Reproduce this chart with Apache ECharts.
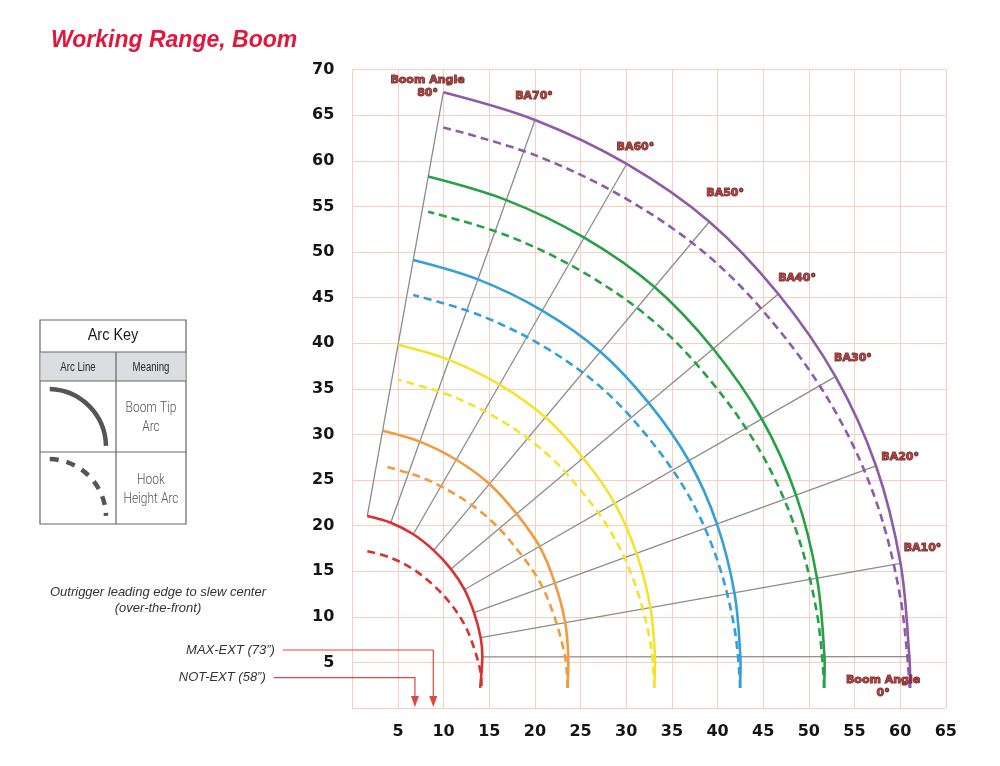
<!DOCTYPE html>
<html>
<head>
<meta charset="utf-8">
<title>Working Range, Boom</title>
<script src="https://cdn.jsdelivr.net/npm/echarts@6/dist/echarts.min.js"></script>
<style>
html, body { margin: 0; padding: 0; background: #fff; }
#chart { width: 1000px; height: 766px; }
</style>
</head>
<body>
<div id="chart"></div>
<script>
// axes (ft)
var xMax = 65;
var yMax = 70;
var tickStep = 5;

// boom angle lines: inner end sits on the base arc, outer end on the full-length arc
var boomAngles = [0, 10, 20, 30, 40, 50, 60, 70, 80];
var lineInner = [[14.24, 5.6], [14.06, 7.71], [13.33, 10.45], [12.29, 12.99], [10.81, 15.23],
                 [8.92, 17.28], [6.68, 19.05], [4.21, 20.32], [1.64, 21.05]];
var lineOuter = [[61.01, 5.63], [60.04, 15.87], [57.36, 26.54], [52.92, 36.33], [46.66, 45.39],
                 [39.1, 53.32], [30.05, 59.65], [20.01, 64.47], [9.97, 67.51]];
var angleLabels = ['Boom Angle\n0°', 'BA10°', 'BA20°', 'BA30°', 'BA40°', 'BA50°', 'BA60°', 'BA70°', 'Boom Angle\n80°'];
var angleLabelAt = [[58.13, 2.34], [62.45, 17.54], [60.0, 27.52], [54.83, 38.38], [48.71, 47.15],
                    [40.83, 56.47], [31.0, 61.51], [19.9, 67.11], [8.24, 68.09]];

// boom tip arcs (solid), bottom end first, then 0..80 deg
var tipRed    = [[14.0, 2.2], [14.24, 5.6], [14.06, 7.71], [13.33, 10.45], [12.29, 12.99], [10.81, 15.23], [8.92, 17.28], [6.68, 19.05], [4.21, 20.32], [1.64, 21.05]];
var tipOrange = [[23.55, 2.2], [23.65, 5.6], [23.32, 9.35], [22.19, 13.69], [20.51, 17.71], [18.0, 21.29], [15.02, 24.57], [11.38, 27.22], [7.39, 29.21], [3.32, 30.4]];
var tipYellow = [[33.05, 2.2], [33.14, 5.6], [32.65, 11.01], [31.13, 16.95], [28.74, 22.44], [25.28, 27.41], [21.14, 31.87], [16.13, 35.46], [10.6, 38.17], [5.01, 39.83]];
var tipBlue   = [[42.45, 2.2], [42.5, 5.6], [41.85, 12.64], [39.94, 20.17], [36.86, 27.11], [32.46, 33.45], [27.17, 39.07], [20.8, 43.58], [13.76, 47.0], [6.67, 49.13]];
var tipGreen  = [[51.65, 2.2], [51.71, 5.6], [50.89, 14.25], [48.6, 23.34], [44.85, 31.69], [39.52, 39.39], [33.1, 46.16], [25.4, 51.57], [16.87, 55.69], [8.31, 58.27]];
var tipPurple = [[61.1, 2.2], [61.01, 5.63], [60.04, 15.87], [57.36, 26.54], [52.92, 36.33], [46.66, 45.39], [39.1, 53.32], [30.05, 59.65], [20.01, 64.47], [9.97, 67.51]];

// hook height arcs (dashed)
var hookRed    = [[14.15, 2.4], [14.06, 3.86], [13.33, 6.6], [12.29, 9.14], [10.81, 11.38], [8.92, 13.43], [6.68, 15.2], [4.21, 16.47], [1.64, 17.2]];
var hookOrange = [[23.6, 2.2], [23.32, 5.5], [22.19, 9.84], [20.51, 13.86], [18.0, 17.44], [15.02, 20.72], [11.38, 23.37], [7.39, 25.36], [3.32, 26.55]];
var hookYellow = [[33.1, 2.2], [32.65, 7.16], [31.13, 13.1], [28.74, 18.59], [25.28, 23.56], [21.14, 28.02], [16.13, 31.61], [10.6, 34.32], [5.01, 35.98]];
var hookBlue   = [[42.5, 2.2], [41.85, 8.79], [39.94, 16.32], [36.86, 23.26], [32.46, 29.6], [27.17, 35.22], [20.8, 39.73], [13.76, 43.15], [6.67, 45.28]];
var hookGreen  = [[51.7, 2.2], [50.89, 10.4], [48.6, 19.49], [44.85, 27.84], [39.52, 35.54], [33.1, 42.31], [25.4, 47.72], [16.87, 51.84], [8.31, 54.42]];
var hookPurple = [[61.05, 2.2], [60.04, 12.02], [57.36, 22.69], [52.92, 32.48], [46.66, 41.54], [39.1, 49.47], [30.05, 55.8], [20.01, 60.62], [9.97, 63.66]];

var arcColors = ['#d6322f', '#f39a3f', '#f7e22b', '#33a0d6', '#27a145', '#8e5ba8'];

// outrigger leaders
var extLabels = ['MAX-EXT (73”)', 'NOT-EXT (58”)'];
var extX = [8.87, 6.86];
var extLeaderY = [6.36, 3.32];
var extStartX = [-7.6, -8.6];
var extTipY = 0.12;


var gridColor = '#f7cfc1';
var redText = '#a52222';
var leaderColor = '#e0473d';

var tipArcs = [tipRed, tipOrange, tipYellow, tipBlue, tipGreen, tipPurple];
var hookArcs = [hookRed, hookOrange, hookYellow, hookBlue, hookGreen, hookPurple];

// every arc, solid ones first
var allArcs = [];
tipArcs.forEach(function(d, i) {
    allArcs.push({ points: d, color: arcColors[i], dashed: false });
});
hookArcs.forEach(function(d, i) {
    allArcs.push({ points: d, color: arcColors[i], dashed: true });
});

var series = [];

boomAngles.forEach(function(a, i) {
    series.push({
        type: 'line',
        name: 'BA' + a,
        data: [lineInner[i], lineOuter[i]],
        symbol: 'none',
        silent: true,
        z: 2,
        lineStyle: { color: '#8c8c8c', width: 1.3 }
    });
});

// arcs as smooth polylines through the read points
series.push({
    type: 'custom',
    silent: true,
    z: 3,
    data: allArcs.map(function(a) { return a.points[0]; }),
    renderItem: function(params, api) {
        var arc = allArcs[params.dataIndex];
        var pts = arc.points.map(function(p) { return api.coord(p); });
        return {
            type: 'polyline',
            shape: { points: pts, smooth: 0.34 },
            style: {
                stroke: arc.color,
                lineWidth: 2.6,
                fill: 'none',
                lineDash: arc.dashed ? [8, 5] : null
            }
        };
    }
});

series.push({
    type: 'scatter',
    silent: true,
    z: 5,
    symbolSize: 1,
    itemStyle: { color: 'rgba(0,0,0,0)' },
    data: angleLabelAt.map(function(p, i) {
        return { value: p, name: angleLabels[i] };
    }),
    label: {
        show: true,
        position: 'inside',
        formatter: '{b}',
        color: redText,
        fontFamily: 'DejaVu Sans',
        fontWeight: 'bold',
        fontSize: 11,
        lineHeight: 13,
        textBorderColor: '#4a0c0c',
        textBorderWidth: 1
    }
});

// outrigger leaders with arrow heads, drawn past the left edge of the grid
series.push({
    type: 'custom',
    silent: true,
    clip: false,
    z: 4,
    data: extX.map(function(x, i) { return [x, extLeaderY[i]]; }),
    renderItem: function(params, api) {
        var i = params.dataIndex;
        var start = api.coord([extStartX[i], extLeaderY[i]]);
        var corner = api.coord([extX[i], extLeaderY[i]]);
        var tip = api.coord([extX[i], extTipY]);
        return {
            type: 'group',
            children: [
                {
                    type: 'polyline',
                    shape: { points: [start, corner, [tip[0], tip[1] - 8]] },
                    style: { stroke: leaderColor, lineWidth: 1.2, fill: 'none' }
                },
                {
                    type: 'polygon',
                    shape: { points: [[tip[0] - 4, tip[1] - 11], [tip[0] + 4, tip[1] - 11], tip] },
                    style: { fill: leaderColor }
                },
                {
                    type: 'text',
                    x: start[0] - 8,
                    y: start[1],
                    style: {
                        text: extLabels[i],
                        fill: '#333',
                        font: 'italic 13px "Liberation Sans", Arial, sans-serif',
                        textAlign: 'right',
                        textVerticalAlign: 'middle'
                    }
                }
            ]
        };
    }
});

function hideZero(v) {
    return v === 0 ? '' : v;
}

var axisLabelStyle = {
    formatter: hideZero,
    color: '#151515',
    fontFamily: 'DejaVu Sans',
    fontWeight: 'bold',
    fontSize: 16
};

var keyFont = '"Liberation Sans", Arial, sans-serif';
var keyLight = '300 15px Roboto, "Liberation Sans", sans-serif';

function keyText(x, y, text, font, fill, sx) {
    return {
        type: 'text', x: x, y: y, scaleX: sx,
        style: { text: text, fill: fill, font: font, lineHeight: 19, textAlign: 'center', textVerticalAlign: 'middle' }
    };
}

var graphics = [
    // arc key table
    { type: 'rect', shape: { x: 40, y: 320, width: 146, height: 204 }, style: { fill: '#fff', stroke: '#666', lineWidth: 1.2 } },
    { type: 'rect', shape: { x: 40.6, y: 352, width: 144.8, height: 29 }, style: { fill: '#dcdde0' } },
    { type: 'line', shape: { x1: 40, y1: 352, x2: 186, y2: 352 }, style: { stroke: '#666', lineWidth: 1.2 } },
    { type: 'line', shape: { x1: 40, y1: 381, x2: 186, y2: 381 }, style: { stroke: '#666', lineWidth: 1.2 } },
    { type: 'line', shape: { x1: 40, y1: 452, x2: 186, y2: 452 }, style: { stroke: '#666', lineWidth: 1.2 } },
    { type: 'line', shape: { x1: 116, y1: 352, x2: 116, y2: 524 }, style: { stroke: '#666', lineWidth: 1.2 } },
    { type: 'arc', shape: { cx: 48, cy: 447, r: 58, startAngle: -Math.PI / 2 + 0.03, endAngle: -0.02 },
      style: { stroke: '#555', lineWidth: 4.5, fill: null } },
    { type: 'arc', shape: { cx: 48, cy: 517, r: 58, startAngle: -Math.PI / 2 + 0.03, endAngle: -0.02 },
      style: { stroke: '#555', lineWidth: 4.5, fill: null, lineDash: [9, 8] } },
    keyText(113, 335, 'Arc Key', '500 17px ' + keyFont, '#1a1a1a', 0.85),
    keyText(78, 367, 'Arc Line', '13px ' + keyFont, '#2a2a2a', 0.74),
    keyText(151, 367, 'Meaning', '13px ' + keyFont, '#2a2a2a', 0.74),
    keyText(151, 418, 'Boom Tip\nArc', keyLight, '#555', 0.8),
    keyText(151, 490, 'Hook\nHeight Arc', keyLight, '#555', 0.8),
    // outrigger note
    { type: 'text', x: 158, y: 600, style: { text: 'Outrigger leading edge to slew center\n(over-the-front)', fill: '#333',
      font: 'italic 13px "Liberation Sans", Arial, sans-serif', lineHeight: 16, textAlign: 'center', textVerticalAlign: 'middle' } }
];

var chart = echarts.init(document.getElementById('chart'));

var option = {
    animation: false,
    backgroundColor: '#fff',
    title: {
        text: 'Working Range, Boom',
        left: 46,
        top: 24,
        textStyle: {
            color: '#e1173c',
            fontFamily: 'Liberation Sans',
            fontStyle: 'italic',
            fontWeight: 'bold',
            fontSize: 23
        }
    },
    grid: {
        left: 352.3,
        right: 54.2,
        top: 69.6,
        bottom: 58,
        containLabel: false,
        outerBoundsMode: 'none'
    },
    xAxis: {
        type: 'value',
        min: 0,
        max: xMax,
        interval: tickStep,
        axisLine: { show: false },
        axisTick: { show: false },
        splitLine: { show: true, lineStyle: { color: gridColor, width: 1 } },
        axisLabel: Object.assign({ margin: 16 }, axisLabelStyle)
    },
    yAxis: {
        type: 'value',
        min: 0,
        max: yMax,
        interval: tickStep,
        axisLine: { show: false },
        axisTick: { show: false },
        splitLine: { show: true, lineStyle: { color: gridColor, width: 1 } },
        axisLabel: Object.assign({ margin: 18 }, axisLabelStyle)
    },
    graphic: { elements: graphics },
    series: series
};

chart.setOption(option);
</script>
</body>
</html>
